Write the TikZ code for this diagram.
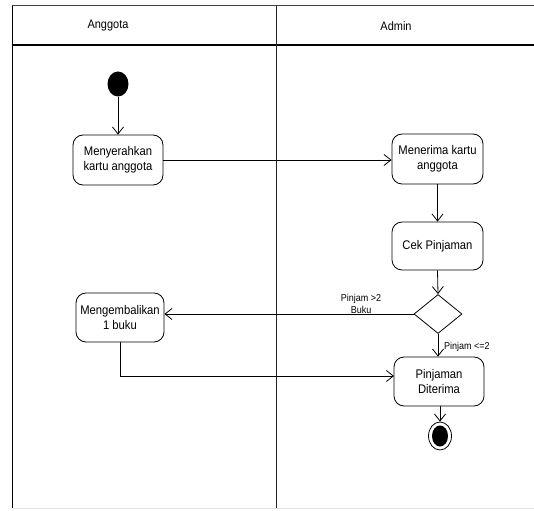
\documentclass[tikz,border=0pt]{standalone}
\usepackage{fontspec}
\setmainfont{Liberation Sans}[FakeStretch=0.9]
\usetikzlibrary{shapes.geometric,arrows.meta,calc}
\tikzset{
  act/.style={draw, rounded corners=10pt, line width=0.8pt, align=center,
    font=\fontsize{12.5}{14.5}\selectfont, inner sep=0pt},
  flow/.style={draw, line width=0.8pt, -{Straight Barb[length=7pt,width=11pt,line width=0.8pt]}},
  lane/.style={line width=1pt},
  guard/.style={font=\fontsize{10}{11.5}\selectfont, align=center, inner sep=0pt},
}
\begin{document}
\begin{tikzpicture}[x=1pt,y=-1pt]
\useasboundingbox (0,0) rectangle (534,510);
\fill[white] (0,0) rectangle (534,510);
% swimlanes
\draw[lane, black!75] (12,6) -- (534,6);
\draw[lane, line width=1.3pt] (12,45) -- (534,45);
\draw[lane] (12,6) -- (12,508);
\draw[lane, black!85] (276,6) -- (276,508);
\draw[black!10, line width=0.8pt] (12,508) -- (534,508);
\node[font=\fontsize{12.2}{14}\selectfont] (h1) at (108,26) {Anggota};
\node[font=\fontsize{12.2}{14}\selectfont] (h2) at (396,26) {Admin};
% nodes
\node[ellipse, fill=black, minimum width=21pt, minimum height=25pt, inner sep=0pt] (init) at (118,84) {};
\node[act, minimum width=90pt, minimum height=50pt] (b1) at (118,160) {Menyerahkan\\kartu anggota};
\node[act, minimum width=91pt, minimum height=50pt] (b2) at (437.5,159) {Menerima kartu\\anggota};
\node[act, minimum width=91pt, minimum height=48pt] (b3) at (437.5,246) {Cek Pinjaman};
\node[diamond, draw, line width=0.8pt, minimum width=48pt, minimum height=39pt, inner sep=0pt, aspect=1.23] (dia) at (438,314) {};
\node[act, minimum width=88pt, minimum height=49pt] (b4) at (120,317.5) {Mengembalikan\\1 buku};
\node[act, minimum width=90pt, minimum height=49pt] (b5) at (439,381.5) {Pinjaman\\Diterima};
\node[ellipse, draw, line width=0.8pt, minimum width=23pt, minimum height=28pt, inner sep=0pt] (fin) at (440,436) {};
\node[ellipse, fill=black, minimum width=16pt, minimum height=21pt, inner sep=0pt] (fincore) at (440,436) {};
\coordinate (j) at (394,376);
% edges
\draw[flow] (init.south) -- (b1.north);
\draw[flow] (b1.east) -- (b1.east -| b2.west);
\draw[flow] (b2.south) -- (b3.north);
\draw[flow] (b3.south) -- (dia.north);
\draw[flow] (dia.west) -- (dia.west -| b4.east);
\draw[flow] (b4.south) |- (j);
\draw[flow] (dia.south) -- (dia.south |- b5.north);
\draw[flow] (b5.south -| fin.north) -- (fin.north);
% guards
\node[guard] (g1) at (361,304) {Pinjam >2\\Buku};
\node[guard, anchor=west] (g2) at (444,347) {Pinjam <=2};
\end{tikzpicture}
\end{document}
